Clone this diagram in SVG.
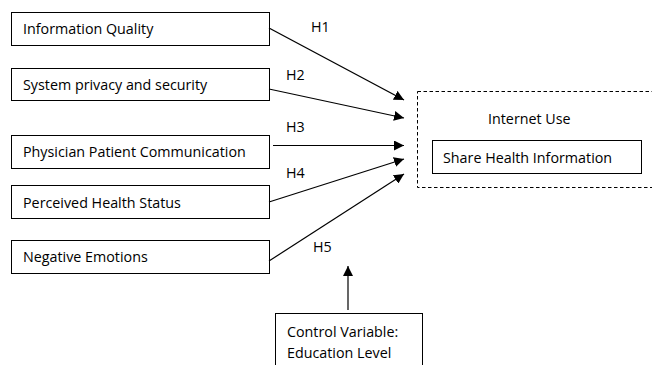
<svg xmlns="http://www.w3.org/2000/svg" width="652" height="365" viewBox="0 0 652 365">
  <defs>
    <marker id="arrow" viewBox="0 0 10 10" refX="10" refY="5" markerWidth="10" markerHeight="10" markerUnits="userSpaceOnUse" orient="auto">
      <path d="M0,0 L10,5 L0,10 Z" fill="#000"/>
    </marker>
    <style>
      .box { fill: #fff; stroke: #000; stroke-width: 1; }
      .dash { fill: none; stroke: #000; stroke-width: 1; stroke-dasharray: 3.5 2.5; }
      .lbl { font-family: "Open Sans", "Liberation Sans", sans-serif; font-size: 14.3px; fill: #000; }
      .conn line { stroke: #000; stroke-width: 1.2; marker-end: url(#arrow); }
    </style>
  </defs>
  <rect width="652" height="365" fill="#fff"/>

  <!-- predictor constructs -->
  <g id="info-quality">
    <rect class="box" x="11.5" y="12.5" width="258" height="33"/>
    <text class="lbl" x="23" y="34">Information Quality</text>
  </g>
  <g id="privacy-security">
    <rect class="box" x="11.5" y="68.5" width="258" height="32"/>
    <text class="lbl" x="23" y="90">System privacy and security</text>
  </g>
  <g id="physician-communication">
    <rect class="box" x="11.5" y="135.5" width="258" height="33"/>
    <text class="lbl" x="23" y="157">Physician Patient Communication</text>
  </g>
  <g id="health-status">
    <rect class="box" x="11.5" y="185.5" width="258" height="33"/>
    <text class="lbl" x="23" y="208">Perceived Health Status</text>
  </g>
  <g id="negative-emotions">
    <rect class="box" x="11.5" y="240.5" width="258" height="33"/>
    <text class="lbl" x="23" y="262">Negative Emotions</text>
  </g>

  <!-- outcome: internet use -->
  <g id="internet-use">
    <rect class="dash" x="417.5" y="91.5" width="250" height="96"/>
    <text class="lbl" x="488" y="124">Internet Use</text>
  </g>
  <g id="share-health-info">
    <rect class="box" x="432.5" y="140.5" width="209" height="33"/>
    <text class="lbl" x="443" y="163">Share Health Information</text>
  </g>

  <!-- control variable -->
  <g id="control-variable">
    <rect class="box" x="275.5" y="313.5" width="147" height="60"/>
    <text class="lbl" x="287" y="337">Control Variable:</text>
    <text class="lbl" x="287" y="358">Education Level</text>
  </g>

  <!-- hypothesised paths -->
  <g id="connectors" class="conn">
    <line x1="269" y1="28" x2="404" y2="100"/>
    <line x1="269" y1="89" x2="404" y2="118"/>
    <line x1="273" y1="145.5" x2="404" y2="145.5"/>
    <line x1="269" y1="202" x2="404" y2="159"/>
    <line x1="269" y1="261" x2="404" y2="174"/>
    <line x1="348" y1="310" x2="348" y2="266"/>
  </g>
  <g id="hypothesis-labels">
    <text class="lbl" x="311" y="32">H1</text>
    <text class="lbl" x="286" y="80">H2</text>
    <text class="lbl" x="286" y="132">H3</text>
    <text class="lbl" x="286" y="178">H4</text>
    <text class="lbl" x="313" y="252">H5</text>
  </g>
</svg>
